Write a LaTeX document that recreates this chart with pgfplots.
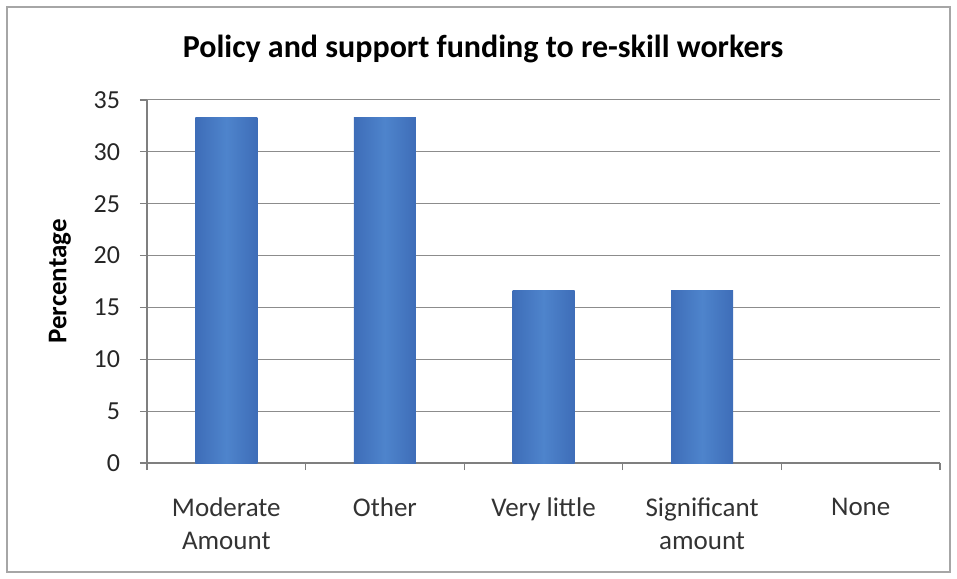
\documentclass[border=0pt]{standalone}
\usepackage{pgfplots}
\pgfplotsset{compat=1.18}
\usepackage{fontspec}
\setmainfont{Carlito}
\definecolor{gridgray}{HTML}{8C8C8C}
\definecolor{axgray}{HTML}{7F7F7F}
\definecolor{bardark}{HTML}{3E6DB8}
\definecolor{barlight}{HTML}{4E84CC}
\begin{document}
\begin{tikzpicture}[x=1pt,y=1pt]
\useasboundingbox (0,0) rectangle (478.5,289);
\draw[color=gray!70, line width=1.2pt] (3.5,3) rectangle (475,285.5);
\begin{axis}[
  at={(73.5pt,57.5pt)}, anchor=south west,
  scale only axis, width=396.5pt, height=181.5pt,
  xmin=-0.5, xmax=4.5, ymin=0, ymax=35,
  ytick={0,5,...,35},
  axis lines*=left,
  axis line style={axgray, line width=0.6pt},
  ymajorgrids, grid style={gridgray, line width=0.5pt},
  xtick={-0.5,0.5,1.5,2.5,3.5,4.5},
  xticklabels={},
  tick align=outside, major tick length=3.5pt,
  tick style={axgray, line width=0.6pt},
  extra x ticks={0,1,2,3,4},
  extra x tick labels={Moderate\\Amount,Other,Very little,Significant\\amount,None},
  extra x tick style={major tick length=0pt, grid=none},
  xticklabel style={align=center, font=\fontsize{13.5}{16.5}\selectfont, text=black!80, anchor=north, yshift=-14pt},
  yticklabel style={font=\fontsize{13}{15}\selectfont, text=black!85, xshift=-6.5pt},
  /pgf/number format/assume math mode=true,
  title={Policy and support funding to re-skill workers},
  title style={font=\fontsize{16}{18}\selectfont\bfseries, at={(axis description cs:0.4237,1.107)}, anchor=center},
  ylabel={Percentage},
  ylabel style={font=\fontsize{13.5}{15}\selectfont\bfseries, at={(axis description cs:-0.1097,0.5)}, anchor=center},
  clip=false,
  barstyle/.style={ybar, bar width=31pt, bar shift=0pt, draw=none, left color=bardark, right color=bardark, middle color=barlight},
]
\addplot[barstyle] coordinates {(0,33.33)};
\addplot[barstyle] coordinates {(1,33.33)};
\addplot[barstyle] coordinates {(2,16.67)};
\addplot[barstyle] coordinates {(3,16.67)};
\addplot[barstyle] coordinates {(4,0)};
\end{axis}
\end{tikzpicture}
\end{document}
